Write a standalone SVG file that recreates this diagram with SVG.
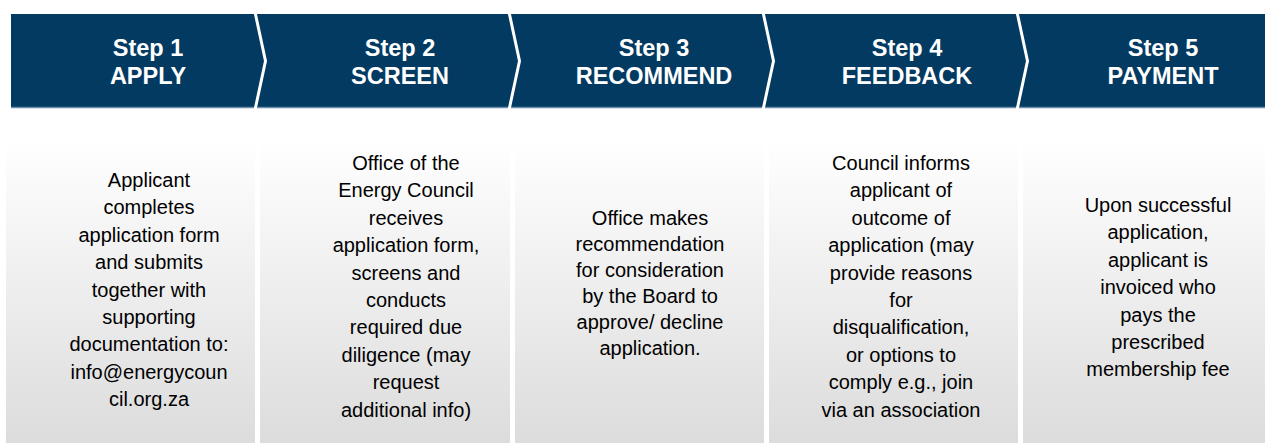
<svg xmlns="http://www.w3.org/2000/svg" width="1265" height="443" viewBox="0 0 1265 443">
<defs>
<linearGradient id="boxgrad" x1="0" y1="0" x2="0" y2="1">
<stop offset="0" stop-color="#ffffff"/>
<stop offset="1" stop-color="#dcdcdc"/>
</linearGradient>
<style>
.hdr{fill:#023a62}
.edge{stroke:#6b8cab;stroke-width:1.5}
.div{fill:none;stroke:#ffffff;stroke-width:3}
.box{fill:url(#boxgrad)}
.h{font-family:"Liberation Sans",Arial,sans-serif;font-weight:bold;font-size:23.5px;fill:#ffffff;text-anchor:middle}
.b{font-family:"Liberation Sans",Arial,sans-serif;font-size:20px;fill:#000000;text-anchor:middle}
</style>
</defs>
<rect x="0" y="0" width="1265" height="443" fill="#ffffff"/>
<rect class="hdr" x="11" y="14" width="1254" height="94"/>
<line class="edge" x1="11" y1="107.5" x2="1265" y2="107.5"/>
<g id="connectors">
<polyline class="div" points="255,12 265.5,61 255,110"/>
<polyline class="div" points="509,12 519.5,61 509,110"/>
<polyline class="div" points="763,12 773.5,61 763,110"/>
<polyline class="div" points="1017,12 1027.5,61 1017,110"/>
</g>
<g id="step1">
<text class="h" x="148" y="56">Step 1</text>
<text class="h" x="148" y="84">APPLY</text>
<rect class="box" x="6" y="140" width="249" height="303"/>
<text class="b" x="149" y="187">Applicant</text>
<text class="b" x="149" y="214.4">completes</text>
<text class="b" x="149" y="241.8">application form</text>
<text class="b" x="149" y="269.2">and submits</text>
<text class="b" x="149" y="296.6">together with</text>
<text class="b" x="149" y="324">supporting</text>
<text class="b" x="149" y="351.4">documentation to:</text>
<text class="b" x="149" y="378.8">info@energycoun</text>
<text class="b" x="149" y="406.2">cil.org.za</text>
</g>
<g id="step2">
<text class="h" x="400" y="56">Step 2</text>
<text class="h" x="400" y="84">SCREEN</text>
<rect class="box" x="260" y="140" width="250" height="303"/>
<text class="b" x="406" y="170">Office of the</text>
<text class="b" x="406" y="197.4">Energy Council</text>
<text class="b" x="406" y="224.8">receives</text>
<text class="b" x="406" y="252.2">application form,</text>
<text class="b" x="406" y="279.6">screens and</text>
<text class="b" x="406" y="307">conducts</text>
<text class="b" x="406" y="334.4">required due</text>
<text class="b" x="406" y="361.8">diligence (may</text>
<text class="b" x="406" y="389.2">request</text>
<text class="b" x="406" y="416.6">additional info)</text>
</g>
<g id="step3">
<text class="h" x="654" y="56">Step 3</text>
<text class="h" x="654" y="84">RECOMMEND</text>
<rect class="box" x="515" y="140" width="249" height="303"/>
<text class="b" x="650" y="225">Office makes</text>
<text class="b" x="650" y="251">recommendation</text>
<text class="b" x="650" y="277">for consideration</text>
<text class="b" x="650" y="303">by the Board to</text>
<text class="b" x="650" y="329">approve/ decline</text>
<text class="b" x="650" y="355">application.</text>
</g>
<g id="step4">
<text class="h" x="907" y="56">Step 4</text>
<text class="h" x="907" y="84">FEEDBACK</text>
<rect class="box" x="769" y="140" width="249" height="303"/>
<text class="b" x="901" y="170">Council informs</text>
<text class="b" x="901" y="197.4">applicant of</text>
<text class="b" x="901" y="224.8">outcome of</text>
<text class="b" x="901" y="252.2">application (may</text>
<text class="b" x="901" y="279.6">provide reasons</text>
<text class="b" x="901" y="307">for</text>
<text class="b" x="901" y="334.4">disqualification,</text>
<text class="b" x="901" y="361.8">or options to</text>
<text class="b" x="901" y="389.2">comply e.g., join</text>
<text class="b" x="901" y="416.6">via an association</text>
</g>
<g id="step5">
<text class="h" x="1163" y="56">Step 5</text>
<text class="h" x="1163" y="84">PAYMENT</text>
<rect class="box" x="1023" y="140" width="242" height="303"/>
<text class="b" x="1158" y="212">Upon successful</text>
<text class="b" x="1158" y="239.4">application,</text>
<text class="b" x="1158" y="266.8">applicant is</text>
<text class="b" x="1158" y="294.2">invoiced who</text>
<text class="b" x="1158" y="321.6">pays the</text>
<text class="b" x="1158" y="349">prescribed</text>
<text class="b" x="1158" y="376.4">membership fee</text>
</g>
</svg>
